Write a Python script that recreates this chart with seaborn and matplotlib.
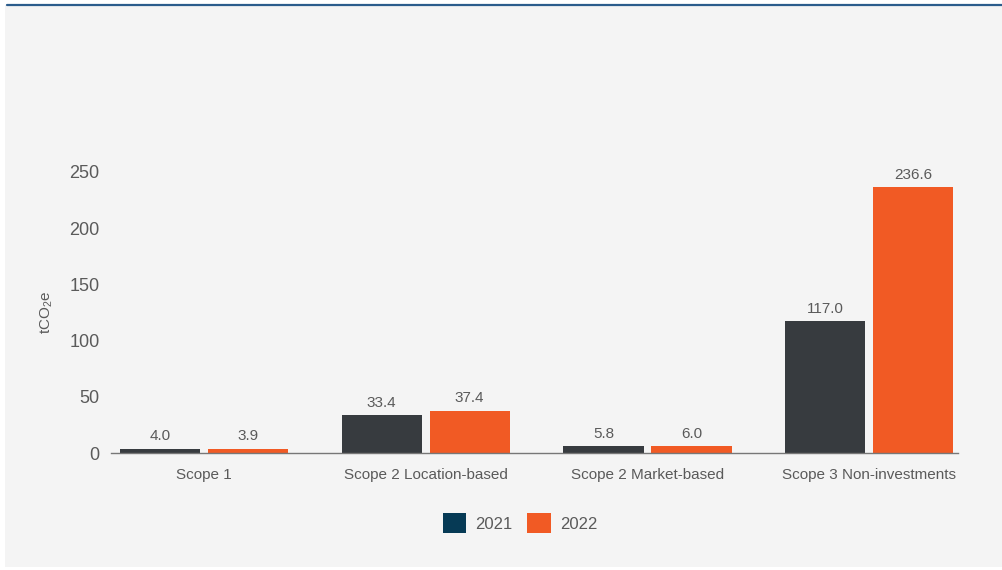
import matplotlib
matplotlib.use("Agg")
import matplotlib.pyplot as plt
import seaborn as sns
import pandas as pd
from matplotlib.patches import Patch, Rectangle
from matplotlib.lines import Line2D

categories = ["Scope 1", "Scope 2 Location-based", "Scope 2 Market-based", "Scope 3 Non-investments"]
years = ["2021", "2022"]
values_2021 = [4.0, 33.4, 5.8, 117.0]
values_2022 = [3.9, 37.4, 6.0, 236.6]
yticks = [0, 50, 100, 150, 200, 250]

bar_colors = {"2021": "#373B3F", "2022": "#F15A24"}
legend_colors = {"2021": "#063A55", "2022": "#F15A24"}
text_color = "#5A5A5A"

df = pd.DataFrame({
    "category": categories * 2,
    "year": [years[0]] * len(categories) + [years[1]] * len(categories),
    "value": values_2021 + values_2022,
})

sns.set_theme(style="white")
plt.rcParams["font.family"] = ["Liberation Sans", "DejaVu Sans"]
plt.rcParams["mathtext.default"] = "regular"

fig = plt.figure(figsize=(10.02, 5.7), dpi=100)
fig.patch.set_facecolor("white")
bg = Rectangle((5 / 1002, 3 / 570), 997 / 1002, 562 / 570, transform=fig.transFigure,
               facecolor="#F4F4F4", edgecolor="none", zorder=-10)
fig.patches.append(bg)
fig.lines.append(Line2D([7 / 1002, 1.0], [1 - 4.5 / 570, 1 - 4.5 / 570], transform=fig.transFigure,
                        color="#2B5C8C", linewidth=1.6))

ax = fig.add_axes([110.7 / 1002, 117 / 570, (958 - 110.7) / 1002, (453 - 172) / 570])
ax.set_facecolor("none")

sns.barplot(data=df, x="category", y="value", hue="year", palette=bar_colors,
            order=categories, hue_order=years, width=0.794, gap=0.09,
            saturation=1, linewidth=0, edgecolor="none", ax=ax, legend=False)

for cont in ax.containers:
    ax.bar_label(cont, fmt="%.1f", padding=4, fontsize=11, color=text_color)

ax.set_ylim(0, 250)
ax.set_xlim(-0.42, 3.40)
ax.set_yticks(yticks)
ax.set_yticklabels([str(t) for t in yticks], fontsize=13, color=text_color)
ax.tick_params(axis="x", labelsize=11, colors=text_color, length=0, pad=11)
ax.tick_params(axis="y", length=0, pad=8)
for lbl in ax.get_xticklabels():
    lbl.set_color(text_color)
ax.set_xlabel("")
ax.set_ylabel("tCO$_2$e", fontsize=11, color=text_color, labelpad=10)

for s in ["top", "right", "left"]:
    ax.spines[s].set_visible(False)
ax.spines["bottom"].set_color("#777777")
ax.spines["bottom"].set_linewidth(1.0)

handles = [Patch(facecolor=legend_colors[y], edgecolor="none", label=y) for y in years]
fig.legend(handles=handles, loc="center", bbox_to_anchor=(520 / 1002, 1 - 523 / 570),
           ncol=2, frameon=False, fontsize=12, labelcolor=text_color,
           handlelength=1.4, handleheight=1.4, handletextpad=0.55, columnspacing=0.9)

fig.savefig("out.png", dpi=100)
